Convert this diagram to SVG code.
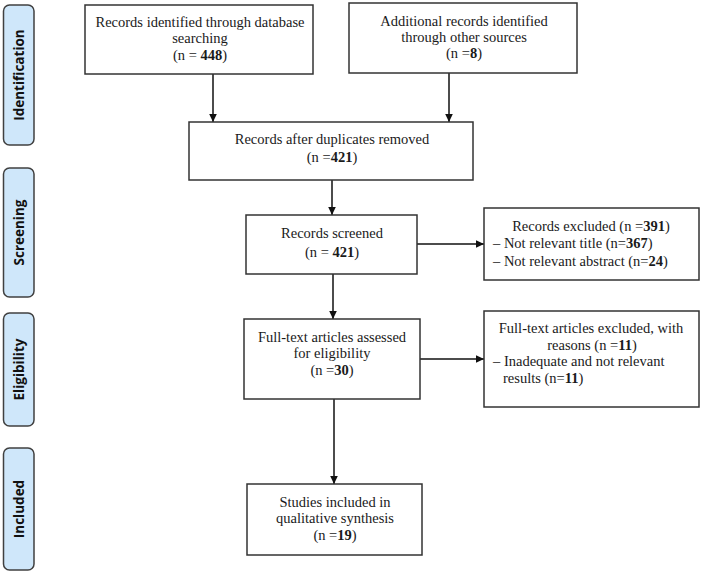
<svg xmlns="http://www.w3.org/2000/svg" width="702" height="573" viewBox="0 0 702 573">
<style>
.bg{fill:#ffffff}
.box{fill:#ffffff;stroke:#333333;stroke-width:1.5}
.bar{fill:#cfe7fa;stroke:#404040;stroke-width:1.5}
.t{font-family:"Liberation Serif","Times New Roman",serif;font-size:14.5px;fill:#1a1a1a}
.c{text-anchor:middle}
.b{font-weight:bold}
.lab{font-family:"Open Sans","DejaVu Sans",sans-serif;font-size:13.5px;font-weight:bold;fill:#111111;text-anchor:middle}
.con{stroke:#111111;stroke-width:1.5;fill:none;marker-end:url(#ah)}
</style>
<defs>
<marker id="ah" markerUnits="userSpaceOnUse" markerWidth="10" markerHeight="10" viewBox="0 0 10 10" refX="9" refY="5" orient="auto">
<path d="M1,1.2 L9,5 L1,8.8 Z" fill="#111111"/>
</marker>
</defs>
<rect class="bg" x="0" y="0" width="702" height="573"/>

<g id="stage-identification">
<rect class="bar" x="3.5" y="5" width="30.5" height="140" rx="6"/>
<text class="lab" transform="translate(23.5,75) rotate(-90)">Identification</text>
</g>
<g id="stage-screening">
<rect class="bar" x="3.5" y="168" width="30.5" height="129" rx="6"/>
<text class="lab" transform="translate(23.5,232.5) rotate(-90)">Screening</text>
</g>
<g id="stage-eligibility">
<rect class="bar" x="3.5" y="313" width="30.5" height="113" rx="6"/>
<text class="lab" transform="translate(23.5,369.5) rotate(-90)">Eligibility</text>
</g>
<g id="stage-included">
<rect class="bar" x="3.5" y="448" width="30.5" height="122" rx="6"/>
<text class="lab" transform="translate(23.5,509) rotate(-90)">Included</text>
</g>

<g id="connectors">
<line class="con" x1="213" y1="74" x2="213" y2="122"/>
<line class="con" x1="449" y1="73" x2="449" y2="122"/>
<line class="con" x1="332" y1="180" x2="332" y2="215"/>
<line class="con" x1="417" y1="244" x2="484" y2="244"/>
<line class="con" x1="333" y1="274" x2="333" y2="319"/>
<line class="con" x1="420" y1="359" x2="484" y2="359"/>
<line class="con" x1="334" y1="399" x2="334" y2="484"/>
</g>

<g id="database-records">
<rect class="box" x="85" y="5" width="228" height="69"/>
<text class="t c" x="200" y="27">Records identified through database</text>
<text class="t c" x="200" y="43">searching</text>
<text class="t c" x="200" y="60">(n = <tspan class="b">448</tspan>)</text>
</g>

<g id="other-sources">
<rect class="box" x="349" y="3" width="228" height="70"/>
<text class="t c" x="464" y="26">Additional records identified</text>
<text class="t c" x="464" y="42">through other sources</text>
<text class="t c" x="464" y="58">(n =<tspan class="b">8</tspan>)</text>
</g>

<g id="duplicates-removed">
<rect class="box" x="189" y="122" width="284" height="58"/>
<text class="t c" x="332" y="144">Records after duplicates removed</text>
<text class="t c" x="332" y="162">(n =<tspan class="b">421</tspan>)</text>
</g>

<g id="records-screened">
<rect class="box" x="246" y="215" width="171" height="59"/>
<text class="t c" x="332" y="238">Records screened</text>
<text class="t c" x="332" y="257">(n = <tspan class="b">421</tspan>)</text>
</g>

<g id="records-excluded">
<rect class="box" x="484" y="208" width="215" height="72"/>
<text class="t c" x="591" y="231">Records excluded (n =<tspan class="b">391</tspan>)</text>
<text class="t" x="493" y="248">– Not relevant title (n=<tspan class="b">367</tspan>)</text>
<text class="t" x="493" y="266">– Not relevant abstract (n=<tspan class="b">24</tspan>)</text>
</g>

<g id="fulltext-assessed">
<rect class="box" x="244" y="319" width="176" height="80"/>
<text class="t c" x="332" y="342">Full-text articles assessed</text>
<text class="t c" x="332" y="358">for eligibility</text>
<text class="t c" x="332" y="375">(n =<tspan class="b">30</tspan>)</text>
</g>

<g id="fulltext-excluded">
<rect class="box" x="484" y="311" width="215" height="96"/>
<text class="t c" x="591" y="333">Full-text articles excluded, with</text>
<text class="t c" x="592" y="350">reasons (n =<tspan class="b">11</tspan>)</text>
<text class="t" x="493" y="366">– Inadequate and not relevant</text>
<text class="t" x="503" y="383">results (n=<tspan class="b">11</tspan>)</text>
</g>

<g id="studies-included">
<rect class="box" x="247" y="484" width="175" height="71"/>
<text class="t c" x="335" y="507">Studies included in</text>
<text class="t c" x="335" y="523">qualitative synthesis</text>
<text class="t c" x="335" y="540">(n =<tspan class="b">19</tspan>)</text>
</g>
</svg>
